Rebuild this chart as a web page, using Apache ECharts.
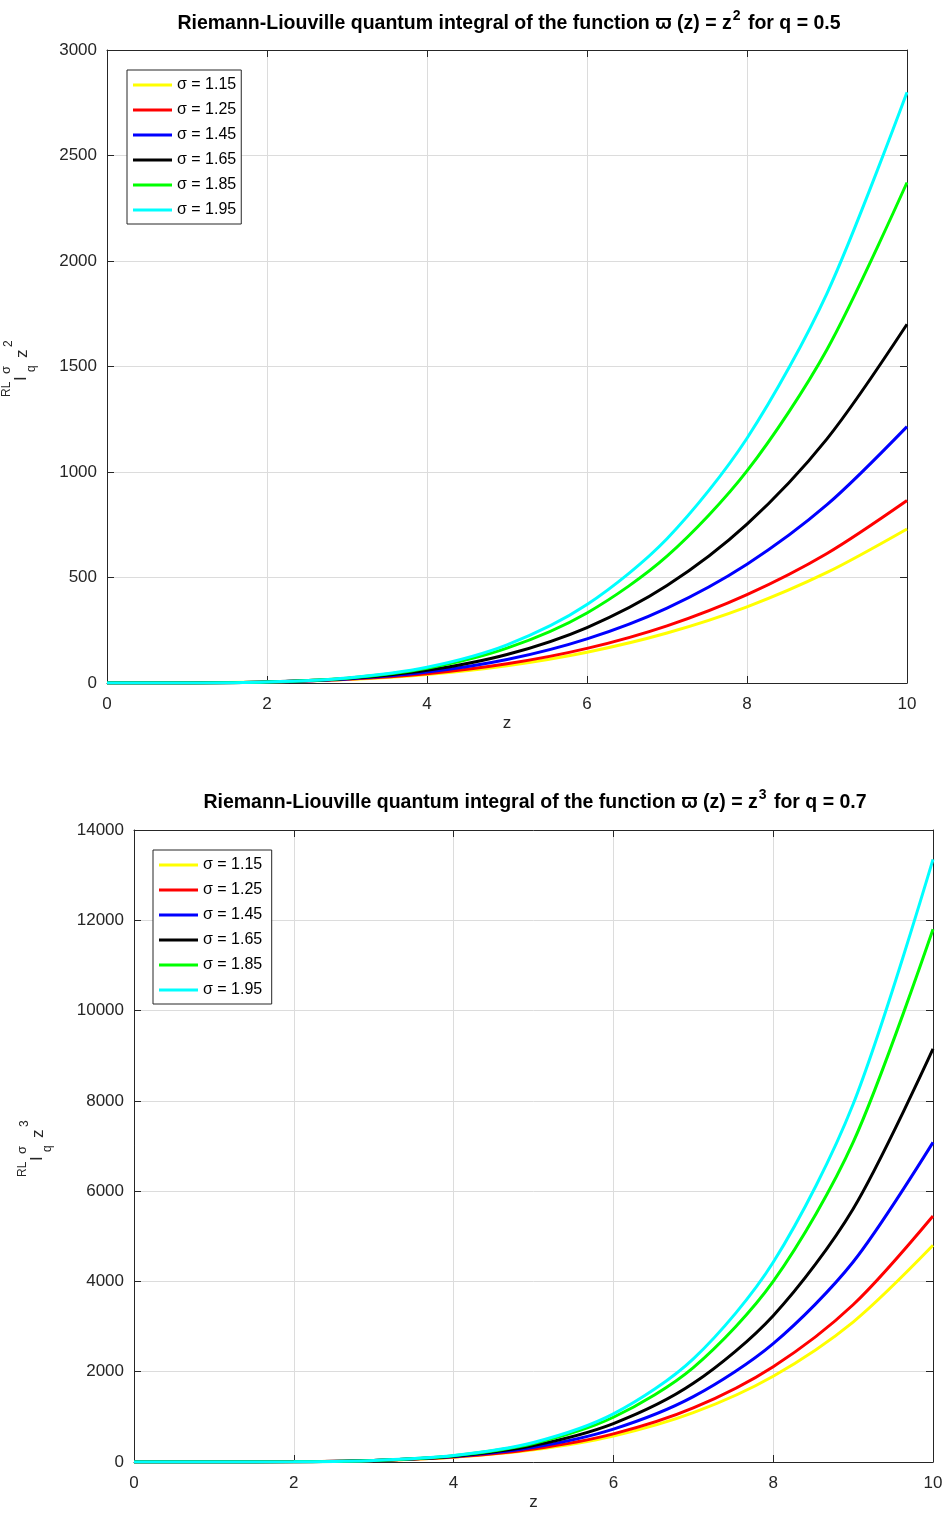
<!DOCTYPE html>
<html><head><meta charset="utf-8">
<script src="https://cdn.jsdelivr.net/npm/echarts@6/dist/echarts.min.js"></script>
<style>html,body{margin:0;padding:0;background:#fff}#c{width:947px;height:1513px}</style>
</head><body><div id="c"></div>
<script>
const zVals = [0,1,2,3,4,5,6,7,8,9,10];
const sigmaLabels = ['σ = 1.15','σ = 1.25','σ = 1.45','σ = 1.65','σ = 1.85','σ = 1.95'];
const colors = ['#ffff00','#ff0000','#0000ff','#000000','#00ff00','#00ffff'];

// Top chart: function z^2, q = 0.5
const top115 = [0,0.52,4.6,16.5,40.7,82.2,146,237,361,524,730];
const top125 = [0,0.49,4.6,17.3,44.0,90.9,164,271,419,614,865];
const top145 = [0,0.43,4.7,19.1,51.5,111,209,355,563,845,1215];
const top165 = [0,0.38,4.8,21.0,60.0,135,263,462,753,1157,1700];
const top185 = [0,0.33,4.8,23.0,69.7,165,332,601,1005,1581,2372];
const top195 = [0,0.31,4.9,24.1,75.0,181,372,684,1160,1847,2800];

// Bottom chart: function z^3, q = 0.7
const bot115 = [0,0.34,6.0,32.5,107,270,576,1093,1901,3100,4800];
const bot125 = [0,0.31,5.8,32.7,111,287,622,1197,2111,3483,5450];
const bot145 = [0,0.25,5.5,33.4,120,324,729,1448,2623,4430,7080];
const bot165 = [0,0.20,5.1,33.9,129,365,851,1742,3242,5606,9150];
const bot185 = [0,0.17,4.8,34.3,139,409,991,2092,3999,7079,11800];
const bot195 = [0,0.15,4.6,34.4,143,432,1065,2284,4424,7925,13350];

const topSeries = [top115,top125,top145,top165,top185,top195];
const botSeries = [bot115,bot125,bot145,bot165,bot185,bot195];

const FONT = '"Liberation Sans", Arial, Helvetica, sans-serif';
const AX = '#262626';
const GRIDC = '#dcdcdc';

function axesFor(gi, xmin, xmax, xint, ymin, ymax, yint) {
  const common = {gridIndex: gi, type: 'value'};
  const xMain = Object.assign({}, common, {
    min: xmin, max: xmax, interval: xint, position: 'bottom',
    name: 'z', nameLocation: 'middle', nameGap: 32,
    nameTextStyle: {color: AX, fontSize: 17, fontFamily: FONT},
    axisLine: {show: true, onZero: false, lineStyle: {color: AX, width: 1}},
    axisTick: {show: true, inside: true, length: 7, lineStyle: {color: AX}},
    axisLabel: {color: AX, fontSize: 17, fontFamily: FONT, margin: 13},
    splitLine: {show: true, lineStyle: {color: GRIDC, width: 1}}
  });
  const xTop = Object.assign({}, common, {
    min: xmin, max: xmax, interval: xint, position: 'top',
    axisLine: {show: true, onZero: false, lineStyle: {color: AX, width: 1}},
    axisTick: {show: true, inside: true, length: 7, lineStyle: {color: AX}},
    axisLabel: {show: false}, splitLine: {show: false}
  });
  const yMain = Object.assign({}, common, {
    min: ymin, max: ymax, interval: yint, position: 'left',
    axisLine: {show: true, onZero: false, lineStyle: {color: AX, width: 1}},
    axisTick: {show: true, inside: true, length: 7, lineStyle: {color: AX}},
    axisLabel: {color: AX, fontSize: 17, fontFamily: FONT, margin: 10, formatter: v => String(v)},
    splitLine: {show: true, lineStyle: {color: GRIDC, width: 1}}
  });
  const yRight = Object.assign({}, common, {
    min: ymin, max: ymax, interval: yint, position: 'right',
    axisLine: {show: true, onZero: false, lineStyle: {color: AX, width: 1}},
    axisTick: {show: true, inside: true, length: 7, lineStyle: {color: AX}},
    axisLabel: {show: false}, splitLine: {show: false}
  });
  return {x: [xMain, xTop], y: [yMain, yRight]};
}

const a0 = axesFor(0, 0, 10, 2, 0, 3000, 500);
const a1 = axesFor(1, 0, 10, 2, 0, 14000, 2000);

const series = [];
topSeries.forEach((arr, i) => {
  series.push({
    name: sigmaLabels[i], type: 'line', xAxisIndex: 0, yAxisIndex: 0,
    data: zVals.map((z, k) => [z, arr[k]]), showSymbol: false, smooth: 0.3,
    lineStyle: {color: colors[i], width: 3}, itemStyle: {color: colors[i]}, z: 3 + i
  });
});
botSeries.forEach((arr, i) => {
  series.push({
    name: sigmaLabels[i] + ' ', type: 'line', xAxisIndex: 2, yAxisIndex: 2,
    data: zVals.map((z, k) => [z, arr[k]]), showSymbol: false, smooth: 0.3,
    lineStyle: {color: colors[i], width: 3}, itemStyle: {color: colors[i]}, z: 3 + i
  });
});

function legendAt(left, top, names) {
  return {
    data: names.map((n, i) => ({name: n, icon: 'rect', itemStyle: {color: colors[i]}})),
    orient: 'vertical', left: left, top: top,
    itemWidth: 39, itemHeight: 3, itemGap: 9,
    backgroundColor: '#fff', borderColor: '#262626', borderWidth: 1,
    padding: [7, 5, 6, 6],
    textStyle: {color: '#000', fontSize: 16, fontFamily: FONT},
    selectedMode: false
  };
}

function titleAt(cx, top, exp, q) {
  return {
    text: '{b|Riemann-Liouville quantum integral of the function ϖ (z) = z}{s|' + exp + '}{b| for q = ' + q + '}',
    left: cx, top: top, textAlign: 'center',
    textStyle: {
      fontFamily: FONT, fontWeight: 'bold', fontSize: 19.5, color: '#000',
      rich: {
        b: {fontFamily: FONT, fontWeight: 'bold', fontSize: 19.5, color: '#000'},
        s: {fontFamily: FONT, fontWeight: 'bold', fontSize: 14, color: '#000', padding: [0, 2, 16, 1]}
      }
    }
  };
}

function ylabel(x, y, exp) {
  const t = (txt, lx, ly, fs) => ({type: 'text', x: lx, y: ly, style: {text: txt, fill: '#262626', fontSize: fs, fontFamily: FONT, verticalAlign: 'middle', align: 'left'}});
  return {
    type: 'group', x: x, y: y, rotation: Math.PI / 2,
    children: [
      t('RL', 0, 7, 12),
      t('I', 16, 21, 17),
      t('σ', 23, 6, 13),
      t('q', 25, 32, 12),
      t('z', 39, 22, 17),
      t(exp, 50, 8.5, 12)
    ]
  };
}

const option = {
  backgroundColor: '#fff',
  animation: false,
  title: [titleAt(504, 4, '2', '0.5'), titleAt(530, 783, '3', '0.7')],
  legend: [legendAt(127, 70, sigmaLabels), legendAt(153, 850, sigmaLabels.map(s => s + ' '))],
  grid: [
    {left: 107, top: 50, width: 800, height: 633, show: false, outerBoundsMode: 'none', containLabel: false},
    {left: 134, top: 830, width: 799, height: 632, show: false, outerBoundsMode: 'none', containLabel: false}
  ],
  xAxis: [a0.x[0], a0.x[1], a1.x[0], a1.x[1]].map((ax, i) => Object.assign(ax, {gridIndex: i < 2 ? 0 : 1})),
  yAxis: [a0.y[0], a0.y[1], a1.y[0], a1.y[1]].map((ax, i) => Object.assign(ax, {gridIndex: i < 2 ? 0 : 1})),
  graphic: [ylabel(0, 397, '2'), ylabel(16, 1177, '3')],
  series: series
};
const chart = echarts.init(document.getElementById('c'), null, {renderer: 'canvas'});
chart.setOption(option);
</script></body></html>
